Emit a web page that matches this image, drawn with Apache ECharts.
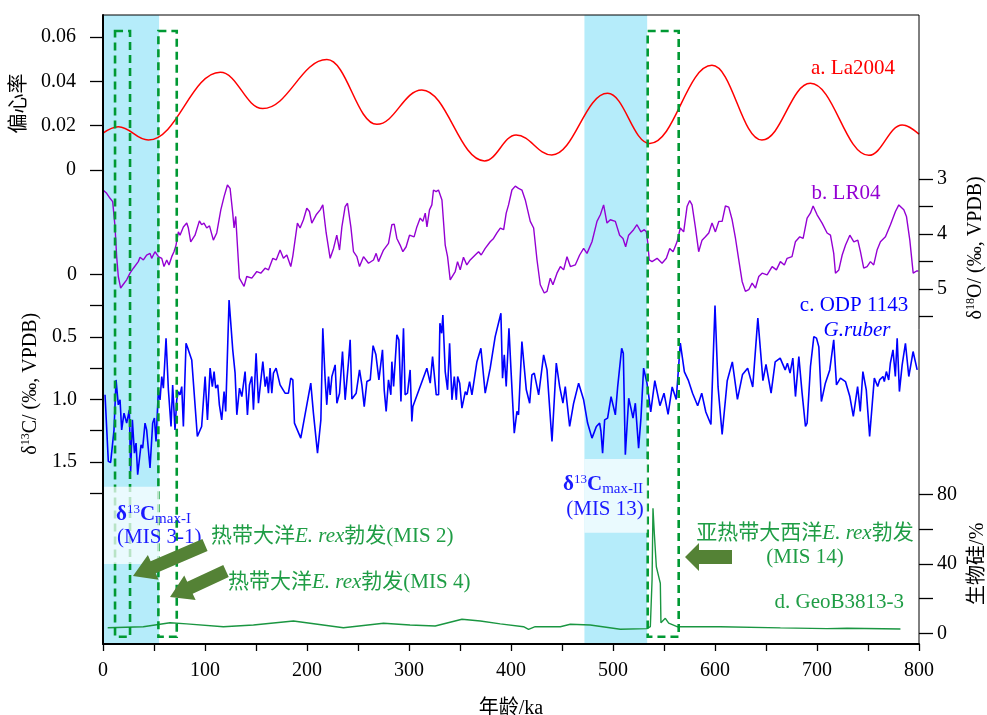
<!DOCTYPE html>
<html><head><meta charset="utf-8">
<script src="https://cdn.jsdelivr.net/npm/echarts@6/dist/echarts.min.js"></script>
<style>html,body{margin:0;padding:0;background:#fff}#c{width:987px;height:715px}</style>
</head><body><div id="c"></div>
<script>
// ---------- DATA ----------
// La2004 eccentricity: turning points (ka, value)
const eccAge = [0,15,44.5,115,156.6,219.5,268.5,312.6,374,405,440,494.7,536,597,646,693.5,750.8,783.5,800];
const eccVal = [0.0166,0.0195,0.0135,0.0441,0.0277,0.0498,0.0206,0.0361,0.0041,0.0158,0.0068,0.0346,0.012,0.0472,0.0135,0.0391,0.0066,0.0203,0.0162];

const lrAge = [0,3.6,6.9,9.5,11.8,13.4,15,17.3,19.6,23.2,26.5,29.8,34.6,36.3,39.6,42.8,46.1,47.7,51,54.3,57.6,59.8,62.5,64.7,67.4,69.6,71.6,73.9,75.5,78.8,82.1,83.7,86,90.2,94.5,96.7,99,101.7,104.4,108.2,111.5,115.5,118.7,122,124.6,127.2,128.5,130.1,133.7,138.3,140.9,145.9,150.8,154.7,158.9,162.2,166.5,169.8,173.6,176.9,180.2,184.1,186.1,190.6,193.2,196.5,199.8,202.4,204.7,209,212.9,215.5,218.8,222.7,226,229.2,231.9,234.2,237.4,239.7,243,245.6,248.9,251.5,255.4,260.3,265.2,267.8,270.1,275,279.9,283.2,285.5,288.1,291.3,294,297.2,300.5,305,307.7,311,313.6,315.9,317.6,320.1,322.4,324,326.6,328.9,332.3,335.5,337.8,340.4,345.3,347.6,350.2,353.4,356.7,360,364.9,368.2,370.8,374.7,379.6,382.9,386.2,389.5,392.8,395.3,397.6,400.9,404.2,407.4,410.7,414,418.9,422.2,425.5,428.7,432.6,435.3,438.5,441.1,445.1,448.4,451.6,454.9,458.2,463,467.3,471.2,474.5,479.4,484.3,487.6,490.8,494.1,497.4,502.3,506.5,509.8,512.4,515.3,520.2,523.5,527.4,530.7,532.7,534,535.5,538.3,543.2,548.1,552.3,555.6,558.9,562.8,566,569.3,572.6,575.2,577.5,580.7,584,587.3,590.6,593.9,597.1,600.4,603.7,607,610.2,613.5,616.8,620.1,623.3,626.6,629.8,633.1,636.4,639.7,642.9,646.2,651.1,656,660.2,664.1,668,670.7,675.5,678.8,683.1,686.4,690.3,693.5,696.2,700.1,705,709.9,713.2,716.4,718.1,721.4,724.7,728,732.2,736.1,740,742.6,745.8,749.1,752.4,755.6,758.9,762.2,767.1,772,776.9,780.2,785.1,787.7,791,794.3,797.6,799.3];
const lrVal = [3.20,3.26,3.35,3.41,3.87,4.41,4.77,4.98,4.92,4.83,4.71,4.62,4.50,4.42,4.47,4.38,4.35,4.44,4.32,4.41,4.44,4.59,4.47,4.56,4.41,4.32,4.20,3.96,4.02,3.87,3.80,3.89,4.14,4.02,3.76,3.83,3.80,3.89,3.85,4.11,3.98,3.56,3.32,3.11,3.17,3.62,3.89,3.68,4.80,4.95,4.77,4.80,4.68,4.71,4.62,4.65,4.44,4.47,4.29,4.44,4.38,4.59,4.40,3.80,3.89,3.74,3.53,3.59,3.80,3.65,3.56,3.47,3.98,4.44,4.26,4.02,4.29,3.87,3.50,3.44,3.87,4.32,4.41,4.59,4.41,4.53,4.47,4.35,4.50,4.29,4.17,3.83,3.82,4.08,4.20,4.32,4.23,4.02,4.05,3.87,3.71,3.77,3.62,3.87,3.56,3.47,3.20,3.23,3.20,3.38,4.20,4.41,4.83,4.68,4.50,4.65,4.42,4.56,4.47,4.38,4.32,4.38,4.26,4.14,4.08,3.98,3.89,3.92,3.62,3.47,3.20,3.13,3.17,3.20,3.38,3.77,3.89,4.47,4.92,5.07,5.04,4.80,4.92,4.71,4.59,4.65,4.41,4.59,4.56,4.38,4.26,4.35,4.14,3.77,3.65,3.47,3.80,3.74,3.77,4.02,4.08,4.23,4.02,3.92,3.83,3.96,3.92,3.96,4.14,4.47,4.50,4.44,4.53,4.44,4.26,4.32,4.14,3.89,3.96,3.50,3.39,3.47,3.87,4.32,4.11,4.05,3.98,3.80,3.96,3.77,3.77,3.49,3.51,3.74,4.08,4.47,4.86,5.04,5.01,4.89,4.98,4.77,4.71,4.74,4.59,4.65,4.50,4.56,4.44,4.41,4.14,4.05,4.08,3.71,3.62,3.49,3.65,3.80,3.98,4.02,4.35,4.71,4.65,4.38,4.20,4.02,4.14,4.11,4.32,4.62,4.59,4.50,4.56,4.29,4.14,4.05,3.83,3.59,3.47,3.56,3.68,4.11,4.71,4.67,4.67];

const odpAge = [2,5.2,7.5,10.8,12.8,15,16.7,18.3,20.6,23.2,25.8,27.1,28.8,30.8,32.4,34,35.6,37.3,38.9,41.2,42.8,46.1,48.7,50.4,52,54.3,55.9,57.6,59.2,61.8,64.1,66.7,68.3,70.6,72.3,73.9,75.5,77.2,78.8,81.4,83.7,87,92.5,96.7,100.1,102.4,105,107.2,108.9,110.5,112.5,114.1,116.4,118.7,120.3,123.6,127.2,129.5,131.2,133.8,136.1,139.3,141.6,143.6,145.9,147.5,150.1,152.4,156.7,159,160.6,162.2,163.8,165.5,167.1,169.7,173.6,178.5,181.8,184.1,186.1,187.7,193.9,203.7,206.3,210.3,213.6,215.5,217.8,219.4,221.1,222.7,224.4,227.6,229.3,231.9,233.2,234.8,237.4,240.7,242.3,244,248.2,251.5,253.8,256.1,258.7,262,264.8,267.5,270.5,274,275.7,277.6,279.9,282.2,283.2,284.9,288.1,290.1,292.1,294.6,296.2,298.5,301.1,302.8,303.8,317.5,320.8,323.1,326.7,329,330.3,332,333.2,335.5,337.8,339.8,342.1,344.4,346.4,347.7,349.7,351.9,355.2,356.8,359.4,361.7,366.6,370.5,374.7,379.6,384.5,390.1,391.7,393.4,395.3,398,399.9,403.2,405.8,407.4,410.7,412.4,415,416.6,418.3,420.5,422.8,427.1,432,435.3,440.2,444.4,447.7,450.9,453.2,457.5,461.4,466.3,471.2,475.1,479.4,483.7,486.9,488.2,489.8,491.8,494.7,498.1,502.3,504.6,508.5,510.1,512.1,515.4,517.6,519.6,521.9,525.1,527.4,530,533.3,534.9,537,541,546,550,554,558,562,566,570,574,578,583,587,591,596,600,603,607,612,617,622,627,632,637,642,647,650,655,659,663.9,668.8,671,673.6,676.3,678.9,682.2,685.4,688.7,690.3,693.6,696.9,699.5,701.8,704.3,708.2,712.5,713.8,716.4,719.1,723,727.9,732.2,735.6,739.8,742.4,745,748.3,751.6,756.2,759.5,761.4,764.7,766,768,770.3,771.9,774.5,776.8,778.6,780.8,783.5,786.7,790,794.2,798.2];
const odpVal = [0.963,1.495,1.503,1.243,0.844,1.043,1.003,1.243,1.109,1.189,1.083,1.575,1.163,1.429,1.349,1.602,1.602,1.362,1.389,1.189,1.243,1.548,1.189,1.149,1.336,0.923,1.003,0.817,0.910,0.511,0.923,1.216,0.884,1.243,1.003,0.937,0.963,0.897,1.216,0.551,0.604,0.684,1.296,1.216,0.817,1.163,0.750,0.897,0.777,0.910,0.884,1.043,1.163,0.937,1.096,0.205,0.604,0.790,1.123,0.910,0.977,0.777,1.123,0.884,0.817,1.083,0.631,1.030,0.698,0.897,0.817,0.950,0.750,0.950,0.790,0.750,0.884,0.950,0.950,0.830,0.843,1.189,1.309,0.870,1.109,1.429,1.163,0.431,0.844,1.043,0.817,0.963,0.817,0.724,1.030,0.950,0.937,0.617,1.003,0.698,0.524,0.997,0.950,0.764,0.884,1.057,0.857,0.843,0.570,0.640,0.844,0.604,0.923,1.096,0.844,0.963,0.698,0.897,0.484,0.524,1.017,0.431,0.963,0.950,0.764,1.176,1.057,0.750,0.870,0.658,0.963,0.963,0.391,0.471,0.325,0.777,0.923,0.551,1.003,0.817,1.003,0.817,0.870,1.070,0.937,0.963,0.857,0.963,0.698,0.591,0.950,0.750,0.498,0.311,0.830,0.644,0.897,0.431,0.750,1.269,1.096,1.123,0.538,0.551,0.923,0.910,1.030,0.804,0.790,0.963,0.644,0.764,1.336,0.710,0.897,1.030,0.897,1.216,1.030,0.870,1.003,1.189,1.309,1.216,1.189,1.256,1.429,1.163,1.149,0.977,1.123,0.897,0.591,0.631,1.442,0.990,1.070,1.149,1.030,1.389,1.149,0.750,0.870,0.963,1.10,0.85,1.05,0.95,1.12,0.90,1.00,0.55,0.78,0.85,0.95,1.05,0.95,1.10,1.20,0.25,0.90,1.28,0.85,0.70,1.00,0.80,0.75,0.90,0.35,0.85,0.72,0.95,0.70,0.670,0.764,0.710,0.790,0.670,0.977,0.657,0.950,1.216,1.190,0.737,0.498,0.510,0.580,1.017,0.870,0.764,0.750,0.524,0.884,0.830,0.857,0.977,1.136,0.897,1.096,0.777,0.924,1.296,0.830,0.897,0.844,0.817,0.857,0.777,0.844,0.711,0.604,0.817,0.511,0.937,0.724,0.551,0.817,0.617,0.764];

const bsiAge = [4.6,39.5,65.7,82,118,147.5,186.7,235.7,275,301,325.7,351.9,370,389.5,412.3,417.2,423.7,448.3,458.1,477.7,507.2,533.3,536.6,538.3,539.2,540.5,542.5,544.8,546.4,547,551.3,554.6,562.8,572.6,605.3,664.1,709.9,729.5,781.8];
const bsiVal = [3.2,3.8,6.1,5.4,3.8,4.8,7.1,3.2,5.8,4.8,4.2,8.1,7.1,5.4,3.8,2.3,3.8,3.8,5.2,4.8,2.3,2.7,3.8,30.7,72,57.6,38.3,32.6,28.8,6.1,8.6,5.8,3.8,3.8,3.8,3.1,2.7,2.9,2.5];

// shaded MIS intervals (ka) and E. rex bloom boxes (ka)
const cyanBands = [[0,55],[472,533.5]];
const rexBoxes = [[11.8,26.5],[54.3,72.3],[534,564.4]];
const boxTopEcc = 0.0627;   // box top, in eccentricity units
const boxBottomBsi = -2;    // box bottom, in biogenic-silica units

// ---------- STYLE ----------
const FONT = "'Liberation Serif','Times New Roman','Noto Sans CJK SC',serif";
const RED='#ff0000', PURPLE='#9400d3', BLUE='#0000ff', ABLUE='#1a1aff', GREEN='#1f9d45', LGREEN='#1a9641', DGREEN='#009933', OLIVE='#548235', CYAN='#b5ecfa';
const L=103, R=68;
const txt = {color:'#000', fontSize:20, fontFamily:FONT};
const tick = len => ({show:true, length:len, lineStyle:{color:'#000', width:1.3}});
const hiddenX = i => ({gridIndex:i, type:'value', min:0, max:800, show:false});
const zip = (a,b) => a.map((x,i)=>[x,b[i]]);
const noLine = {show:false, onZero:false};

const chart = echarts.init(document.getElementById('c'), null, {renderer:'canvas'});
chart.setOption({
  animation:false,
  backgroundColor:'#fff',
  grid:[
    {left:L,right:R,top:15,bottom:71,show:true,borderColor:'#000',borderWidth:1,backgroundColor:'transparent',z:10,outerBoundsMode:'none'},
    {left:L,right:R,top:37,height:133,outerBoundsMode:'none'},
    {left:L,right:R,top:179,height:137.7,outerBoundsMode:'none'},
    {left:L,right:R,top:274.3,height:219,outerBoundsMode:'none'},
    {left:L,right:R,top:494.3,height:139,outerBoundsMode:'none'}
  ],
  xAxis:[
    {gridIndex:0,type:'value',min:0,max:800,interval:50,z:10,
     axisLine:{show:true,onZero:false,lineStyle:{color:'#000',width:2}},
     axisTick:tick(7),
     axisLabel:{...txt,margin:17,formatter:v=>(v%100===0?String(v):'')},
     splitLine:{show:false},
     name:'年龄/ka',nameLocation:'middle',nameGap:55,nameTextStyle:{...txt}},
    hiddenX(1),hiddenX(2),hiddenX(3),hiddenX(4)
  ],
  yAxis:[
    {gridIndex:0,type:'value',min:0,max:1,z:10,position:'left',
     axisLine:{show:true,onZero:false,lineStyle:{color:'#000',width:2}},
     axisTick:{show:false},axisLabel:{show:false},splitLine:{show:false}},
    {gridIndex:1,type:'value',min:0,max:0.06,interval:0.02,position:'left',z:10,
     axisLine:noLine,axisTick:tick(13),splitLine:{show:false},
     axisLabel:{...txt,margin:27,formatter:v=>(Math.abs(v)<1e-9?'0':v.toFixed(2))},
     name:'偏心率',nameLocation:'middle',nameRotate:90,nameGap:66,nameTextStyle:{...txt,fontSize:20}},
    {gridIndex:2,type:'value',min:3,max:5.5,interval:0.5,inverse:true,position:'right',z:10,
     axisLine:noLine,axisTick:tick(14),splitLine:{show:false},
     axisLabel:{...txt,margin:18,formatter:v=>(Math.abs(v-Math.round(v))<1e-6?String(Math.round(v)):'')},
     name:'{a|δ}{s|18}{a|O/ (‰, VPDB)}',nameLocation:'middle',nameRotate:90,nameGap:46,
     nameTextStyle:{...txt,rich:{a:{fontSize:20,fontFamily:FONT,color:'#000',lineHeight:22},s:{fontSize:12,fontFamily:FONT,color:'#000',verticalAlign:'top',lineHeight:12}}}},
    {gridIndex:3,type:'value',min:0,max:1.75,interval:0.25,inverse:true,position:'left',z:10,
     axisLine:noLine,axisTick:tick(13),splitLine:{show:false},
     axisLabel:{...txt,margin:26,formatter:v=>{const t=Math.round(v*100)/100; if(Math.abs(t*2-Math.round(t*2))>1e-6) return ''; return t===0?'0':t.toFixed(1);}},
     name:'{a|δ}{s|13}{a|C/ (‰, VPDB)}',nameLocation:'middle',nameRotate:90,nameGap:57,
     nameTextStyle:{...txt,rich:{a:{fontSize:20,fontFamily:FONT,color:'#000',lineHeight:22},s:{fontSize:12,fontFamily:FONT,color:'#000',verticalAlign:'top',lineHeight:12}}}},
    {gridIndex:4,type:'value',min:0,max:80,interval:20,position:'right',z:10,
     axisLine:noLine,axisTick:tick(14),splitLine:{show:false},
     axisLabel:{...txt,margin:18,formatter:v=>(v%40===0?String(v):'')},
     name:'生物硅/%',nameLocation:'middle',nameRotate:90,nameGap:46,nameTextStyle:{...txt,fontSize:20}}
  ],
  series:[
    {type:'line',xAxisIndex:1,yAxisIndex:1,data:zip(eccAge,eccVal),smooth:0.4,smoothMonotone:'x',symbol:'none',lineStyle:{color:RED,width:1.5},z:3},
    {type:'line',xAxisIndex:2,yAxisIndex:2,data:zip(lrAge,lrVal),symbol:'none',lineStyle:{color:PURPLE,width:1.4},z:3},
    {type:'line',xAxisIndex:3,yAxisIndex:3,data:zip(odpAge,odpVal),symbol:'none',lineStyle:{color:BLUE,width:1.6},z:3},
    {type:'line',xAxisIndex:4,yAxisIndex:4,data:zip(bsiAge,bsiVal),symbol:'none',lineStyle:{color:LGREEN,width:1.4},z:3}
  ]
});

// ---------- ANNOTATIONS ----------
const px = v => chart.convertToPixel({xAxisIndex:0}, v);
const fTop = chart.convertToPixel({yAxisIndex:0}, 1);
const fBot = chart.convertToPixel({yAxisIndex:0}, 0);
const bTop = chart.convertToPixel({yAxisIndex:1}, boxTopEcc);
const bBot = chart.convertToPixel({yAxisIndex:4}, boxBottomBsi);

function arrowPts(tail, tip, bw, hw, hl){
  const dx=tip[0]-tail[0], dy=tip[1]-tail[1], len=Math.hypot(dx,dy);
  const ux=dx/len, uy=dy/len, nx=-uy, ny=ux;
  const bx=tip[0]-ux*hl, by=tip[1]-uy*hl;
  return [[tail[0]+nx*bw/2,tail[1]+ny*bw/2],[bx+nx*bw/2,by+ny*bw/2],[bx+nx*hw/2,by+ny*hw/2],[tip[0],tip[1]],
          [bx-nx*hw/2,by-ny*hw/2],[bx-nx*bw/2,by-ny*bw/2],[tail[0]-nx*bw/2,tail[1]-ny*bw/2]];
}
function T(x,y,text,opt){
  const o = opt||{};
  return {type:'text',x:x,y:y,z:o.z||7,style:{text:text,fill:o.fill||'#000',fontSize:o.size||20,fontFamily:FONT,
    fontStyle:o.italic?'italic':'normal',fontWeight:o.bold?'bold':'normal',
    align:o.align||'left',textAlign:o.align||'left',verticalAlign:'middle',textVerticalAlign:'middle',rich:o.rich}};
}
const g = [];
cyanBands.forEach(b=>g.push({type:'rect',z:1,shape:{x:px(b[0]),y:fTop,width:px(b[1])-px(b[0]),height:fBot-fTop},style:{fill:CYAN}}));
rexBoxes.forEach(b=>g.push({type:'rect',z:5,shape:{x:px(b[0]),y:bTop,width:px(b[1])-px(b[0]),height:bBot-bTop},
  style:{fill:'none',stroke:DGREEN,lineWidth:2.6,lineDash:[8,5]}}));
// translucent label panels over the shaded bands
g.push({type:'rect',z:6,shape:{x:px(cyanBands[0][0]),y:486.7,width:px(cyanBands[0][1])-px(cyanBands[0][0]),height:77.3},style:{fill:'rgba(255,255,255,0.72)'}});
g.push({type:'rect',z:6,shape:{x:px(cyanBands[1][0]),y:459,width:px(cyanBands[1][1])-px(cyanBands[1][0]),height:73.7},style:{fill:'rgba(255,255,255,0.72)'}});

const dRich = c => ({d:{fontSize:21,fontWeight:'bold',fill:c,fontFamily:FONT,lineHeight:24},
  s:{fontSize:13,fill:c,fontFamily:FONT,verticalAlign:'top',lineHeight:13},
  c:{fontSize:21,fontWeight:'bold',fill:c,fontFamily:FONT,lineHeight:24},
  b:{fontSize:15,fill:c,fontFamily:FONT,verticalAlign:'bottom',lineHeight:13}});
g.push(T(116,515,'{d|δ}{s|13}{c|C}{b|max-I}',{rich:dRich(ABLUE)}));
g.push(T(117,537,'(MIS 3-1)',{fill:ABLUE,size:21}));
g.push(T(603,485,'{d|δ}{s|13}{c|C}{b|max-II}',{rich:dRich(ABLUE),align:'center'}));
g.push(T(605,509,'(MIS 13)',{fill:ABLUE,align:'center',size:21}));

const gRich = {n:{fontSize:21,fill:GREEN,fontFamily:FONT},i:{fontSize:21,fill:GREEN,fontFamily:FONT,fontStyle:'italic'}};
g.push(T(211,536,'{n|热带大洋}{i|E. rex}{n|勃发(MIS 2)}',{rich:gRich}));
g.push(T(228,582,'{n|热带大洋}{i|E. rex}{n|勃发(MIS 4)}',{rich:gRich}));
g.push(T(805,533,'{n|亚热带大西洋}{i|E. rex}{n|勃发}',{rich:gRich,align:'center'}));
g.push(T(805,557,'(MIS 14)',{fill:GREEN,align:'center',size:21}));
g.push(T(904,602,'d. GeoB3813-3',{fill:GREEN,align:'right',size:21}));

g.push(T(853,68,'a. La2004',{fill:RED,align:'center',size:21}));
g.push(T(846,193,'b. LR04',{fill:PURPLE,align:'center',size:21}));
g.push(T(854,305,'c. ODP 1143',{fill:BLUE,align:'center',size:21}));
g.push(T(857,330,'G.ruber',{fill:BLUE,align:'center',italic:true,size:21}));

g.push({type:'polygon',z:8,shape:{points:arrowPts([205,545],[133,576],13,27,22)},style:{fill:OLIVE}});
g.push({type:'polygon',z:8,shape:{points:arrowPts([226,571],[170,597],13,27,22)},style:{fill:OLIVE}});
g.push({type:'polygon',z:8,shape:{points:arrowPts([732,557],[685,557],14,28,14)},style:{fill:OLIVE}});

chart.setOption({graphic:{elements:g}});
</script>
</body></html>
